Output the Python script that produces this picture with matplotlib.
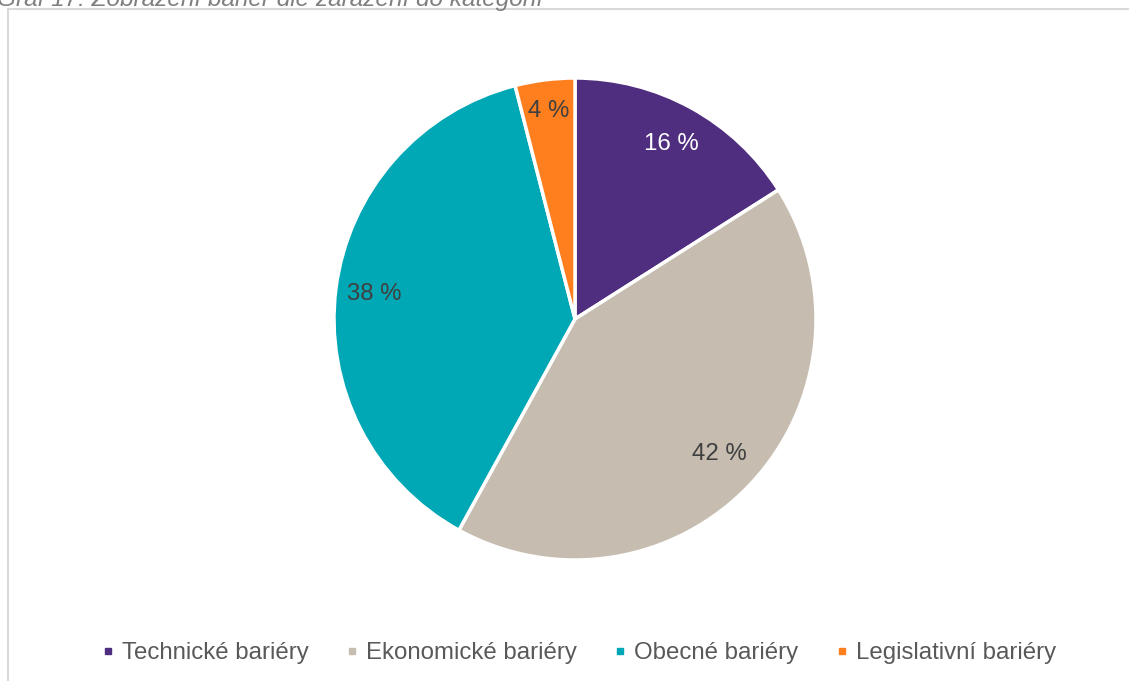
import numpy as np
import matplotlib.pyplot as plt
from matplotlib.patches import Rectangle
from matplotlib.lines import Line2D

plt.rcParams['font.family'] = ['Liberation Sans', 'DejaVu Sans']

categories = ["Technické bariéry", "Ekonomické bariéry", "Obecné bariéry", "Legislativní bariéry"]
shares = [16, 42, 38, 4]
colors = ["#4F2D7F", "#C6BDB0", "#00A7B5", "#FF7F1F"]
label_colors = ["white", "#404040", "#404040", "#404040"]
caption = "Graf 17: Zobrazení bariér dle zařazení do kategorií"

W, H = 1129, 681
fig = plt.figure(figsize=(W / 100, H / 100), dpi=100)

# light frame around the chart area (top and left edge visible)
frame = Rectangle((8 / W, -0.1), 1.2, (H - 9) / H + 0.1, transform=fig.transFigure,
                  fill=False, edgecolor="#D9D9D9", linewidth=1.5)
fig.patches.append(frame)

# caption above the frame, partly cut off by the top edge
fig.text(-3 / W, 1 - 6 / H, caption, fontsize=17.6, style="italic", color="#7F7F7F",
         ha="left", va="baseline")

# pie
r = 241
cx, cy = 575, 319
ax = fig.add_axes([(cx - r) / W, (H - cy - r) / H, 2 * r / W, 2 * r / H])
wedges, texts, autotexts = ax.pie(
    shares, colors=colors, startangle=90, counterclock=False,
    autopct=lambda p: "%d %%" % round(p), pctdistance=0.85,
    wedgeprops=dict(edgecolor="white", linewidth=2.5),
    textprops=dict(fontsize=17.3))

# nudge each label along its wedge's middle angle
label_dist = [0.83, 0.82, 0.84, 0.87]
for w, t, c, d in zip(wedges, autotexts, label_colors, label_dist):
    mid = np.deg2rad((w.theta1 + w.theta2) / 2)
    t.set_position((d * np.cos(mid), d * np.sin(mid)))
    t.set_color(c)
ax.set_xlim(-1, 1)
ax.set_ylim(-1, 1)
ax.set_aspect("equal")
ax.axis("off")

# legend along the bottom
handles = [Line2D([], [], marker="s", linestyle="none", markersize=5,
                  markerfacecolor=c, markeredgecolor=c) for c in colors]
fig.legend(handles, categories, loc="center", bbox_to_anchor=(0.513, 1 - 653 / H),
           ncol=4, frameon=False, fontsize=17.3, labelcolor="#595959",
           handletextpad=0.33, columnspacing=1.55, handlelength=0.5)

fig.savefig("out.png", dpi=100)
